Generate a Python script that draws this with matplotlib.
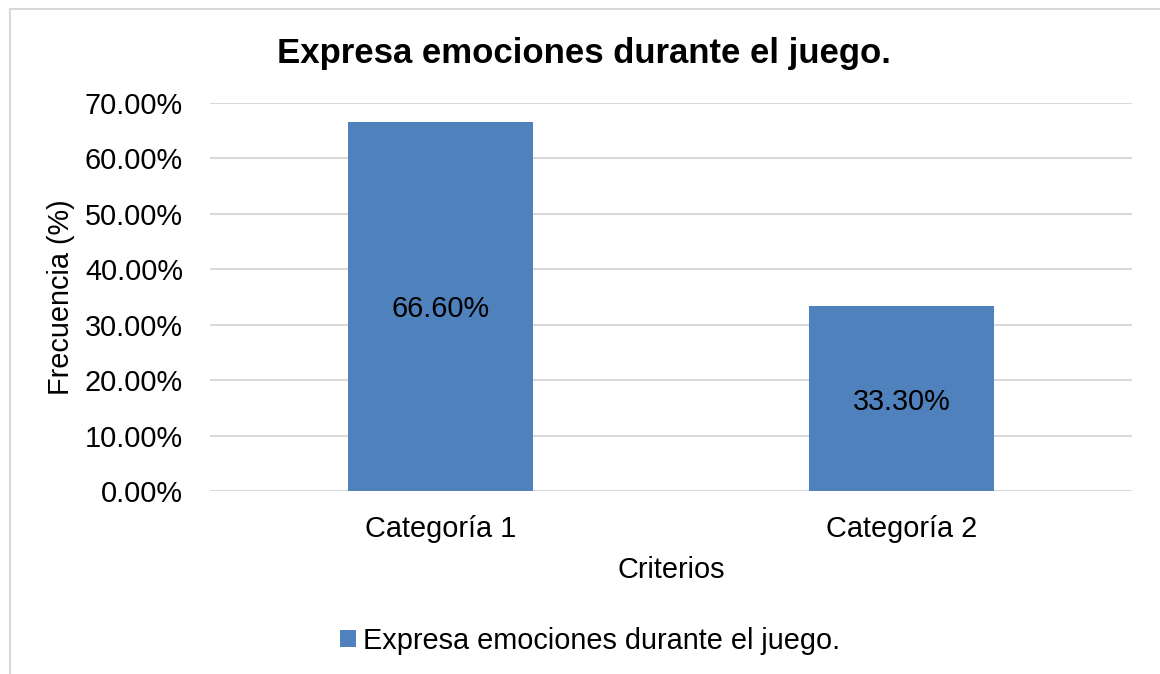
import matplotlib
matplotlib.use("Agg")
import matplotlib.pyplot as plt
import matplotlib.patches as mpatches
from matplotlib.lines import Line2D

categories = ["Categoría 1", "Categoría 2"]
values = [0.666, 0.333]
value_labels = ["66.60%", "33.30%"]
yticks = [0.0, 0.1, 0.2, 0.3, 0.4, 0.5, 0.6, 0.7]
series_name = "Expresa emociones durante el juego."

BAR = "#4F81BD"
GRID = "#D9D9D9"
FS = 20.8

plt.rcParams["font.family"] = ["Liberation Sans", "DejaVu Sans"]

W, H = 1160, 674
fig = plt.figure(figsize=(W / 100, H / 100), dpi=100)
fig.patch.set_facecolor("white")

ax = fig.add_axes([210 / W, 1 - 491 / H, (1132 - 210) / W, (491 - 103) / H])
x = range(len(categories))
ax.bar(x, values, width=0.4, color=BAR, zorder=3)
ax.set_xlim(-0.5, len(categories) - 0.5)
ax.set_ylim(0, 0.7)

ax.set_yticks(yticks)
ax.set_yticklabels([f"{v * 100:.2f}%" for v in yticks], fontsize=FS)
ax.set_xticks(list(x))
ax.set_xticklabels(categories, fontsize=FS)
ax.tick_params(axis="y", length=0, pad=19.5)
ax.tick_params(axis="x", length=0, pad=17)
ax.yaxis.grid(True, color=GRID, linewidth=1.5, zorder=0)
ax.set_axisbelow(True)
for s in ax.spines.values():
    s.set_visible(False)

for i, (v, lab) in enumerate(zip(values, value_labels)):
    ax.text(i, v / 2, lab, ha="center", va="center_baseline", fontsize=FS,
            color="black", zorder=4)

ax.set_ylabel("Frecuencia (%)", fontsize=FS, labelpad=7)
ax.set_xlabel("Criterios", fontsize=FS, labelpad=10)

fig.text(584 / W, 1 - 54 / H, "Expresa emociones durante el juego.",
         ha="center", va="center", fontsize=25, fontweight="bold")

handle = mpatches.Patch(facecolor=BAR, edgecolor="none", label=series_name)
fig.legend(handles=[handle], loc="center", bbox_to_anchor=(590 / W, 1 - 641 / H),
           frameon=False, fontsize=FS, handlelength=0.55, handleheight=0.55,
           handletextpad=0.25)

# chart frame (only top and left edges visible)
fig.add_artist(Line2D([9.5 / W, 9.5 / W], [0, 1 - 8.5 / H], transform=fig.transFigure,
                      color=GRID, linewidth=1.5))
fig.add_artist(Line2D([9.5 / W, 1], [1 - 8.5 / H, 1 - 8.5 / H], transform=fig.transFigure,
                      color=GRID, linewidth=1.5))

fig.savefig("out.png", dpi=100, facecolor="white")
